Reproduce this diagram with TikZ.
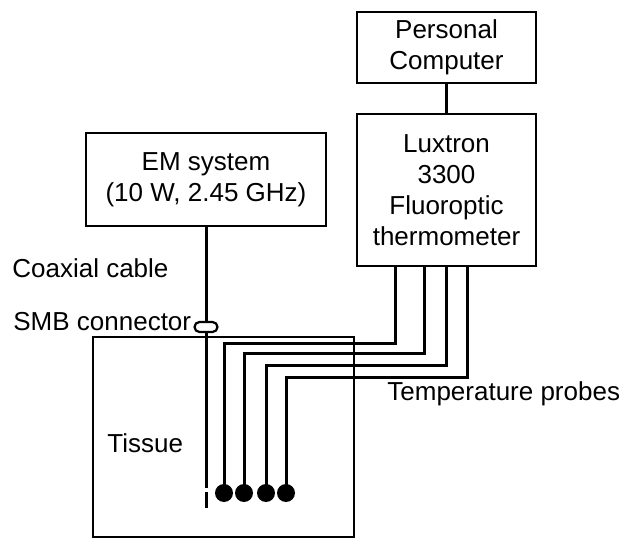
\documentclass[tikz,border=0pt]{standalone}
\usepackage{fontspec}
\setmainfont{Liberation Sans}
\usetikzlibrary{positioning}

\begin{document}
\begin{tikzpicture}[x=0.5pt,y=-0.5pt]
  \tikzset{
    box/.style={
      draw,
      line width=1.2pt,
      inner sep=0pt,
      align=center,
      font=\fontsize{13}{15.5}\selectfont
    },
    lbl/.style={anchor=west, inner sep=0pt, font=\fontsize{13}{15.5}\selectfont},
    wire/.style={line width=1.5pt},
    probetip/.style={circle, fill, inner sep=0pt, minimum size=9pt}
  }
  \useasboundingbox (0,0) rectangle (623,546);

  % Personal computer
  \node[box, minimum width=89.5pt, minimum height=35.5pt] (pc) at (446.5,47.5) {Personal\\Computer};

  % Luxtron thermometer
  \node[box, minimum width=89.5pt, minimum height=76pt] (lux) at (446.5,190) {Luxtron\\3300\\Fluoroptic\\thermometer};
  \draw[wire] (pc) -- (lux);

  % EM source
  \node[box, minimum width=120pt, minimum height=46.5pt] (em) at (206,179.5) {EM system\\(10 W, 2.45 GHz)};

  % Tissue block
  \node[box, minimum width=130.5pt, minimum height=100pt] (tissue) at (223.5,437) {};
  \node[lbl] (tissuelbl) at (107,443) {Tissue};

  % Coaxial cable and antenna
  \coordinate (feed) at (206,488);
  \coordinate (tiptop) at (206,492);
  \coordinate (tipend) at (206,508);
  \node[draw, line width=1.1pt, fill=white, rounded corners=2.5pt, minimum width=11.5pt, minimum height=5pt, inner sep=0pt] (smb) at (206,327) {};
  \draw[wire] (em.south) -- (smb.north);
  \draw[wire] (smb.south) -- (feed);
  \draw[wire] (tiptop) -- (tipend);
  \node[lbl] (coaxlbl) at (12,268) {Coaxial cable};
  \node[lbl] (smblbl) at (13,322) {SMB connector};

  % Temperature probes
  \foreach \x [count=\i] in {224,244,266,286}
    \node[probetip] (d\i) at (\x,493) {};
  \foreach \px/\py [count=\i] in {395/343, 424/353, 446/365, 467/377}
    \draw[wire] (lux.south -| \px,0) |- (d\i |- 0,\py) -- (d\i.center);
  \node[lbl] (probelbl) at (387,394) {Temperature probes};
\end{tikzpicture}
\end{document}
